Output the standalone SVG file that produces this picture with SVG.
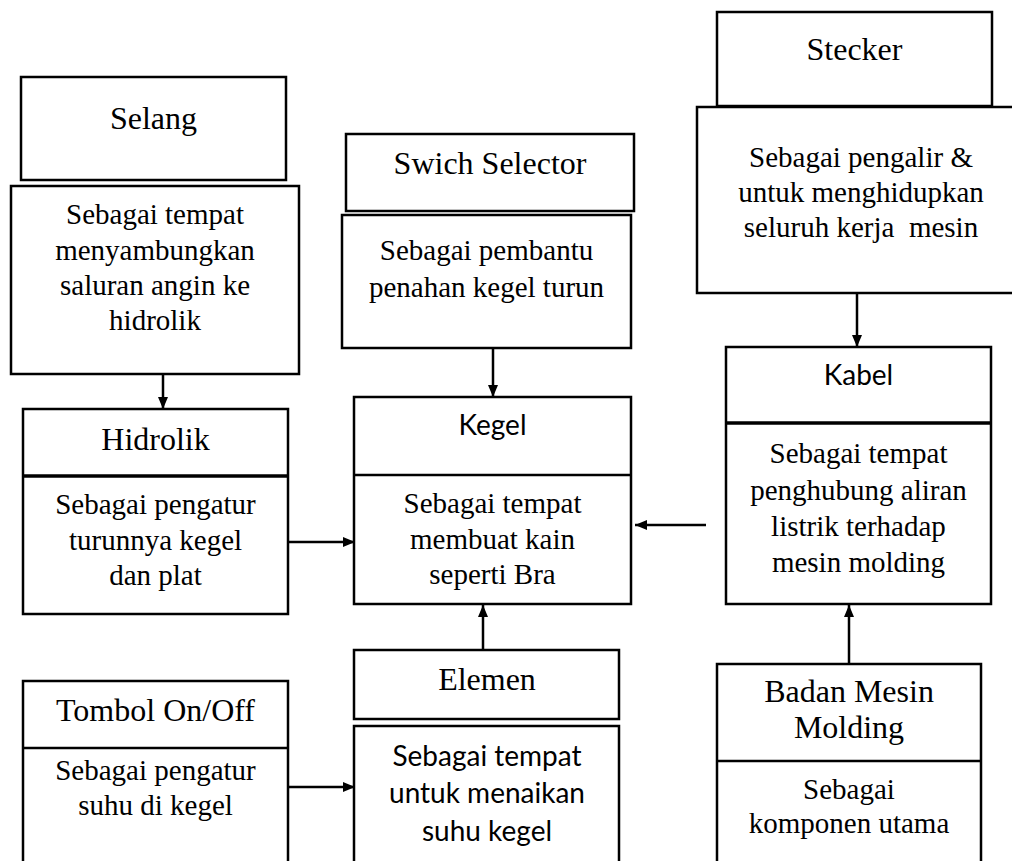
<svg xmlns="http://www.w3.org/2000/svg" width="1012" height="861" viewBox="0 0 1012 861">
<style>
.b{fill:#fff;stroke:#000;stroke-width:2.5}
.sep{stroke:#000;stroke-width:3.5}
.sep2{stroke:#000;stroke-width:2.5}
.s{font-family:"Liberation Serif","Times New Roman",serif;fill:#000;text-anchor:middle}
.h{font-size:32px}
.d{font-size:29px}
.ss{font-family:"Lato","Open Sans",sans-serif;fill:#000;text-anchor:middle;font-size:28px}
.c{stroke:#000;stroke-width:2.5;fill:none}
</style>
<defs>
<marker id="ar" viewBox="0 0 12 10" refX="12" refY="5" markerWidth="12" markerHeight="10" markerUnits="userSpaceOnUse" orient="auto">
<path d="M0,0 L12,5 L0,10 z" fill="#000"/>
</marker>
</defs>
<rect width="1012" height="861" fill="#fff"/>
<g id="connectors">
<line class="c" x1="163" y1="374" x2="163" y2="409" marker-end="url(#ar)"/>
<line class="c" x1="493" y1="348" x2="493" y2="397" marker-end="url(#ar)"/>
<line class="c" x1="857" y1="293" x2="857" y2="347" marker-end="url(#ar)"/>
<line class="c" x1="288" y1="542" x2="355" y2="542" marker-end="url(#ar)"/>
<line class="c" x1="706" y1="525" x2="635" y2="525" marker-end="url(#ar)"/>
<line class="c" x1="483" y1="650" x2="483" y2="605" marker-end="url(#ar)"/>
<line class="c" x1="849" y1="664" x2="849" y2="605" marker-end="url(#ar)"/>
<line class="c" x1="288" y1="787" x2="355" y2="787" marker-end="url(#ar)"/>
</g>
<g id="selang">
<rect class="b" x="21" y="77" width="265" height="103"/>
<text class="s h" x="153.5" y="129">Selang</text>
</g>
<g id="selang-desc">
<rect class="b" x="11" y="186" width="288" height="188"/>
<text class="s d" x="155" y="224">Sebagai tempat</text>
<text class="s d" x="155" y="260">menyambungkan</text>
<text class="s d" x="155" y="295">saluran angin ke</text>
<text class="s d" x="155" y="330">hidrolik</text>
</g>
<g id="hidrolik">
<rect class="b" x="23" y="409" width="265" height="205"/>
<line class="sep" x1="23" y1="476" x2="288" y2="476"/>
<text class="s h" x="155.5" y="450">Hidrolik</text>
<text class="s d" x="155.5" y="514">Sebagai pengatur</text>
<text class="s d" x="155.5" y="550">turunnya kegel</text>
<text class="s d" x="155.5" y="585">dan plat</text>
</g>
<g id="swich-selector">
<rect class="b" x="346" y="134" width="288" height="77"/>
<text class="s h" x="490" y="174">Swich Selector</text>
</g>
<g id="swich-desc">
<rect class="b" x="342" y="215" width="289" height="133"/>
<text class="s d" x="486.5" y="260">Sebagai pembantu</text>
<text class="s d" x="486.5" y="297">penahan kegel turun</text>
</g>
<g id="kegel">
<rect class="b" x="354" y="397" width="277" height="207"/>
<line class="sep2" x1="354" y1="475" x2="631" y2="475"/>
<text class="ss" x="492.5" y="435">Kegel</text>
<text class="s d" x="492.5" y="513">Sebagai tempat</text>
<text class="s d" x="492.5" y="549">membuat kain</text>
<text class="s d" x="492.5" y="584">seperti Bra</text>
</g>
<g id="stecker">
<rect class="b" x="717" y="12" width="275" height="94"/>
<text class="s h" x="854.5" y="60">Stecker</text>
</g>
<g id="stecker-desc">
<rect class="b" x="697" y="107" width="328" height="186"/>
<text class="s d" x="861" y="167">Sebagai pengalir &amp;</text>
<text class="s d" x="861" y="202">untuk menghidupkan</text>
<text class="s d" x="861" y="237" xml:space="preserve">seluruh kerja  mesin</text>
</g>
<g id="kabel">
<rect class="b" x="726" y="347" width="265" height="257"/>
<line class="sep" x1="726" y1="423" x2="991" y2="423"/>
<text class="ss" x="858.5" y="385">Kabel</text>
<text class="s d" x="858.5" y="463">Sebagai tempat</text>
<text class="s d" x="858.5" y="500">penghubung aliran</text>
<text class="s d" x="858.5" y="536">listrik terhadap</text>
<text class="s d" x="858.5" y="572">mesin molding</text>
</g>
<g id="elemen">
<rect class="b" x="354" y="650" width="265" height="69"/>
<text class="s h" x="487" y="690">Elemen</text>
</g>
<g id="elemen-desc">
<rect class="b" x="354" y="726" width="265" height="150"/>
<text class="ss" x="487" y="766">Sebagai tempat</text>
<text class="ss" x="487" y="803">untuk menaikan</text>
<text class="ss" x="487" y="841">suhu kegel</text>
</g>
<g id="tombol">
<rect class="b" x="23" y="681" width="265" height="195"/>
<line class="sep2" x1="23" y1="748" x2="288" y2="748"/>
<text class="s h" x="155.5" y="721">Tombol On/Off</text>
<text class="s d" x="155.5" y="780">Sebagai pengatur</text>
<text class="s d" x="155.5" y="815">suhu di kegel</text>
</g>
<g id="badan-mesin">
<rect class="b" x="717" y="664" width="264" height="212"/>
<line class="sep2" x1="717" y1="761" x2="981" y2="761"/>
<text class="s h" x="849" y="702">Badan Mesin</text>
<text class="s h" x="849" y="738">Molding</text>
<text class="s d" x="849" y="799">Sebagai</text>
<text class="s d" x="849" y="833">komponen utama</text>
</g>
</svg>
